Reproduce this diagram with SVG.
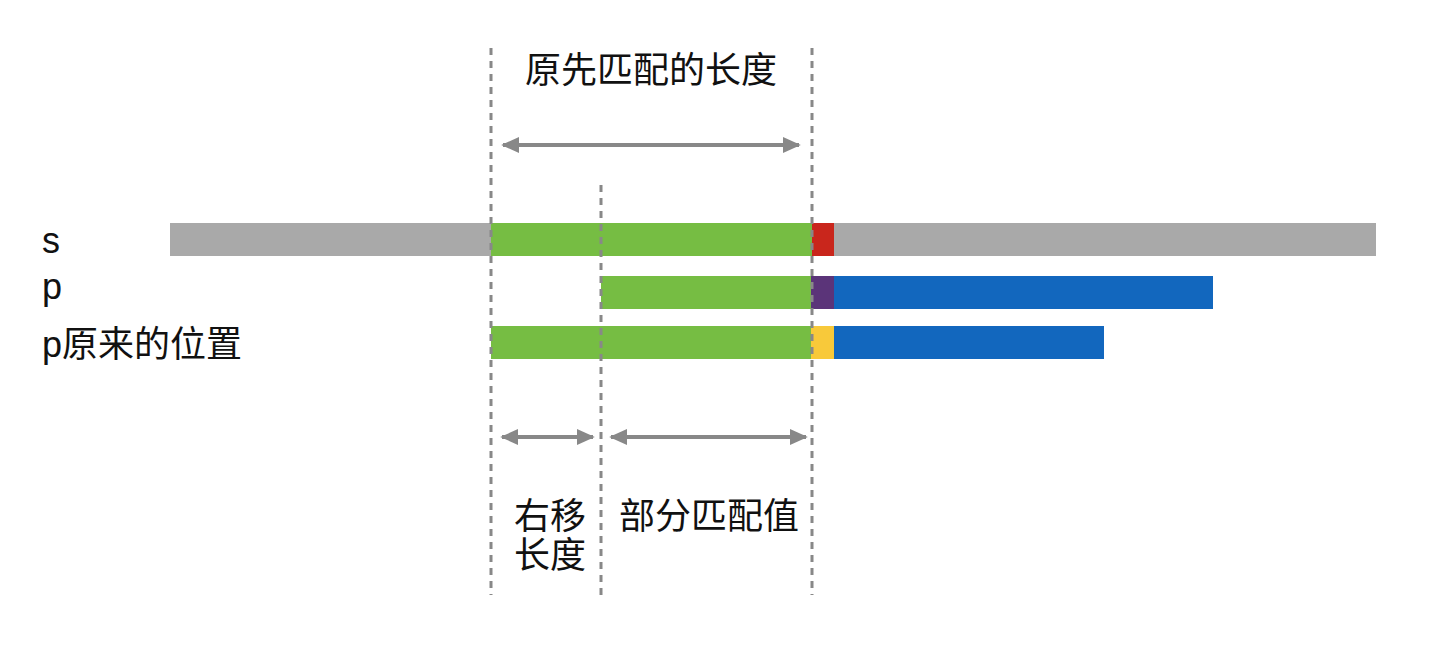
<svg xmlns="http://www.w3.org/2000/svg" width="1442" height="650" viewBox="0 0 1442 650">
<defs>
<marker id="ah" viewBox="0 0 10 10" refX="9" refY="5" markerWidth="18" markerHeight="16" markerUnits="userSpaceOnUse" orient="auto-start-reverse" preserveAspectRatio="none">
<path d="M0,0 L10,5 L0,10 z" fill="#888"/>
</marker>
<style>
.t{font-family:"Liberation Sans","Noto Sans CJK SC",sans-serif;font-size:36px;fill:#111}
.d{stroke:#888;stroke-width:3;stroke-dasharray:7 6;fill:none}
.a{stroke:#888;stroke-width:4;fill:none;marker-start:url(#ah);marker-end:url(#ah)}
</style>
</defs>
<rect width="1442" height="650" fill="#fff"/>
<g id="bar-s">
<rect x="170" y="223" width="1206" height="33" fill="#a9a9a9"/>
<rect x="491" y="223" width="321" height="33" fill="#76bd43"/>
<rect x="812" y="223" width="22" height="33" fill="#c9261c"/>
</g>
<g id="bar-p">
<rect x="601" y="276" width="210" height="33" fill="#76bd43"/>
<rect x="811" y="276" width="23" height="33" fill="#5b3479"/>
<rect x="834" y="276" width="379" height="33" fill="#1267be"/>
</g>
<g id="bar-p-orig">
<rect x="491" y="326" width="320" height="33" fill="#76bd43"/>
<rect x="811" y="326" width="23" height="33" fill="#f8c93a"/>
<rect x="834" y="326" width="270" height="33" fill="#1267be"/>
</g>
<g id="connectors">
<line class="d" x1="491" y1="48" x2="491" y2="595"/>
<line class="d" x1="812" y1="48" x2="812" y2="595"/>
<line class="d" x1="601" y1="185" x2="601" y2="595"/>
<line class="a" x1="503" y1="145" x2="799" y2="145"/>
<line class="a" x1="502" y1="437" x2="593" y2="437"/>
<line class="a" x1="611" y1="437" x2="806" y2="437"/>
</g>
<g id="labels">
<text class="t" x="651" y="83" text-anchor="middle">原先匹配的长度</text>
<text class="t" x="42" y="253">s</text>
<text class="t" x="42" y="299">p</text>
<text class="t" x="42" y="357">p原来的位置</text>
<text class="t" x="550" y="529" text-anchor="middle">右移</text>
<text class="t" x="550" y="568" text-anchor="middle">长度</text>
<text class="t" x="709" y="529" text-anchor="middle">部分匹配值</text>
</g>
</svg>
